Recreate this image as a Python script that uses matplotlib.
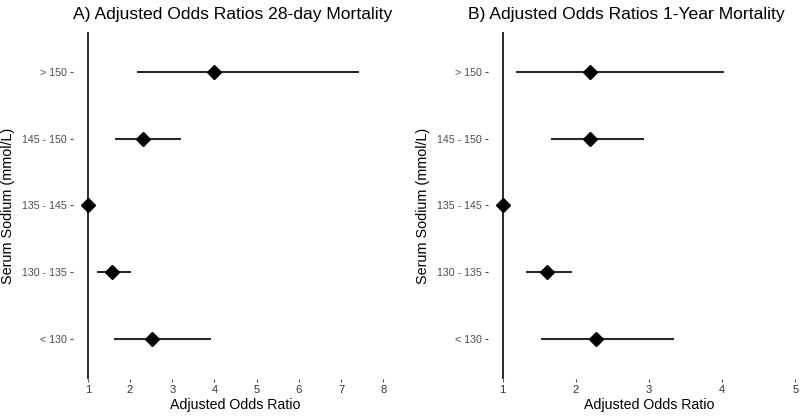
import matplotlib
matplotlib.use("Agg")
import matplotlib.pyplot as plt

plt.rcParams['font.family'] = ['Liberation Sans', 'DejaVu Sans']

groups = ['< 130', '130 - 135', '135 - 145', '145 - 150', '> 150']

# 28-day mortality
or_28 = [2.51, 1.58, 1.0, 2.30, 4.00]
lo_28 = [1.61, 1.22, 1.0, 1.65, 2.17]
hi_28 = [3.92, 2.02, 1.0, 3.21, 7.43]

# 1-year mortality
or_1y = [2.27, 1.60, 1.0, 2.20, 2.19]
lo_1y = [1.53, 1.32, 1.0, 1.66, 1.18]
hi_1y = [3.34, 1.95, 1.0, 2.93, 4.03]

W, H = 800, 418
fig = plt.figure(figsize=(W / 100, H / 100), dpi=100)

ax1 = fig.add_axes([73 / W, 39 / H, 325 / W, 347 / H])
ax2 = fig.add_axes([488 / W, 39 / H, 322 / W, 347 / H])


def forest(ax, est, lo, hi, xmax, title, title_x):
    ypos = list(range(1, len(groups) + 1))
    ax.axvline(1, color='#1a1a1a', lw=1.3, zorder=1)
    ax.hlines(ypos, lo, hi, color='#2a2a2a', lw=1.5, zorder=2)
    ax.plot(est, ypos, 'D', color='black', ms=7.5, zorder=3)
    pad = (xmax - 1) * 0.05
    ax.set_xlim(1 - pad, xmax + pad)
    ax.set_ylim(0.4, len(groups) + 0.6)
    ax.set_xticks(range(1, xmax + 1))
    ax.set_yticks(ypos)
    ax.set_yticklabels(groups)
    for s in ax.spines.values():
        s.set_visible(False)
    ax.tick_params(axis='both', colors='#4d4d4d', labelsize=7.7, length=2.5,
                   width=0.8, pad=2)
    ax.tick_params(axis='x', labelcolor='#333333', labelsize=8)
    ax.set_xlabel('Adjusted Odds Ratio', fontsize=10.2, labelpad=2)
    ax.set_ylabel('Serum Sodium (mmol/L)', fontsize=10.4, labelpad=5)
    fig.text(title_x / W, 1 - 14 / H, title, fontsize=12.6, ha='left',
             va='center')


forest(ax1, or_28, lo_28, hi_28, 8,
       'A) Adjusted Odds Ratios 28-day Mortality', 73)
forest(ax2, or_1y, lo_1y, hi_1y, 5,
       'B) Adjusted Odds Ratios 1-Year Mortality', 468)

fig.savefig('out.png', dpi=100)
